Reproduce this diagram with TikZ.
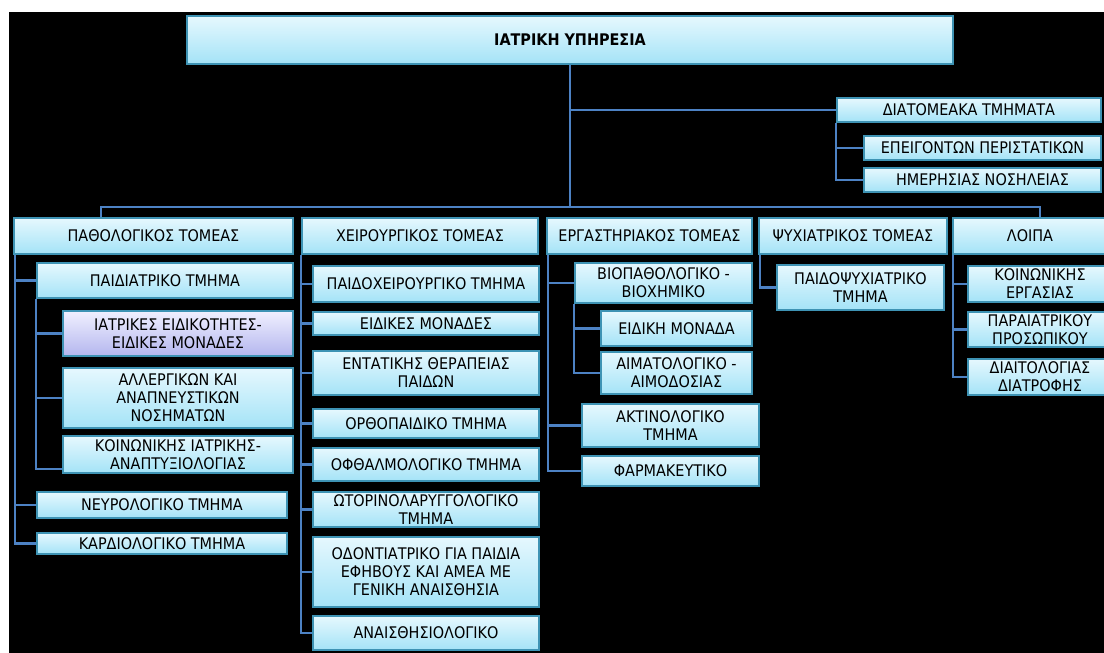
\documentclass[tikz,border=0pt]{standalone}
\usepackage{fontspec}
\setmainfont{DejaVu Sans Condensed}
\usepackage{tikz}
\usetikzlibrary{arrows.meta, positioning, calc}
\usepackage{xcolor}
\definecolor{boxtop}{HTML}{E6F8FE}
\definecolor{boxbot}{HTML}{A4E3F7}
\definecolor{boxline}{HTML}{3E93B4}
\definecolor{lavtop}{HTML}{F0F0FF}
\definecolor{lavbot}{HTML}{B4B6EE}
\definecolor{linkcol}{HTML}{4D82C4}

\begin{document}
\begin{tikzpicture}[
        x=1pt, y=-1pt,
        box/.style={rectangle, draw=boxline, line width=1.2pt, top color=boxtop, bottom color=boxbot,
            align=center, inner xsep=1pt, inner ysep=0pt, text=black, font=\fontsize{16}{18}\selectfont},
        lav/.style={box, top color=lavtop, bottom color=lavbot},
        sz/.style 2 args={minimum width=#1pt, minimum height=#2pt},
        link/.style={draw=linkcol, line width=2.1pt}
    ]
        \useasboundingbox (0,0) rectangle (1104,653);
        \fill[white] (0,0) rectangle (1104,653);
        \fill[black] (9,12) rectangle (1104,653);

        \node[box, sz={766}{48}, font=\fontsize{16}{18}\selectfont\bfseries] (top) at (570,40) {ΙΑΤΡΙΚΗ ΥΠΗΡΕΣΙΑ};

        \node[box, sz={264}{24}] (diat) at (969,110) {ΔΙΑΤΟΜΕΑΚΑ ΤΜΗΜΑΤΑ};
        \node[box, sz={237}{24}] (epeig) at (982.5,148) {ΕΠΕΙΓΟΝΤΩΝ ΠΕΡΙΣΤΑΤΙΚΩΝ};
        \node[box, sz={237}{24}] (imer) at (982.5,180) {ΗΜΕΡΗΣΙΑΣ ΝΟΣΗΛΕΙΑΣ};

        \node[box, sz={279}{36}] (path) at (153.5,236) {ΠΑΘΟΛΟΓΙΚΟΣ ΤΟΜΕΑΣ};
        \node[box, sz={236}{36}] (xeir) at (420,236) {ΧΕΙΡΟΥΡΓΙΚΟΣ ΤΟΜΕΑΣ};
        \node[box, sz={205}{36}] (erg) at (649.5,236) {ΕΡΓΑΣΤΗΡΙΑΚΟΣ ΤΟΜΕΑΣ};
        \node[box, sz={188}{36}] (psy) at (853,236) {ΨΥΧΙΑΤΡΙΚΟΣ ΤΟΜΕΑΣ};
        \node[box, sz={154}{36}] (loipa) at (1030,236) {ΛΟΙΠΑ};

        \node[box, sz={256}{35}] (paid) at (165,280.5) {ΠΑΙΔΙΑΤΡΙΚΟ ΤΜΗΜΑ};
        \node[lav, sz={230}{45}] (iatr) at (178,333.5) {ΙΑΤΡΙΚΕΣ ΕΙΔΙΚΟΤΗΤΕΣ-\\ΕΙΔΙΚΕΣ ΜΟΝΑΔΕΣ};
        \node[box, sz={230}{60}] (allerg) at (178,398) {ΑΛΛΕΡΓΙΚΩΝ ΚΑΙ\\ΑΝΑΠΝΕΥΣΤΙΚΩΝ\\ΝΟΣΗΜΑΤΩΝ};
        \node[box, sz={230}{37}] (koin) at (178,454.5) {ΚΟΙΝΩΝΙΚΗΣ ΙΑΤΡΙΚΗΣ-\\ΑΝΑΠΤΥΞΙΟΛΟΓΙΑΣ};
        \node[box, sz={250}{26}] (neur) at (162,505) {ΝΕΥΡΟΛΟΓΙΚΟ ΤΜΗΜΑ};
        \node[box, sz={250}{21}] (kard) at (162,543.5) {ΚΑΡΔΙΟΛΟΓΙΚΟ ΤΜΗΜΑ};

        \node[box, sz={226}{36}] (paidxeir) at (426,284) {ΠΑΙΔΟΧΕΙΡΟΥΡΓΙΚΟ ΤΜΗΜΑ};
        \node[box, sz={226}{23}] (eidmon) at (426,323.5) {ΕΙΔΙΚΕΣ ΜΟΝΑΔΕΣ};
        \node[box, sz={226}{44}] (entat) at (426,373) {ΕΝΤΑΤΙΚΗΣ ΘΕΡΑΠΕΙΑΣ\\ΠΑΙΔΩΝ};
        \node[box, sz={226}{29}] (orth) at (426,423.5) {ΟΡΘΟΠΑΙΔΙΚΟ ΤΜΗΜΑ};
        \node[box, sz={226}{33}] (ofth) at (426,464.5) {ΟΦΘΑΛΜΟΛΟΓΙΚΟ ΤΜΗΜΑ};
        \node[box, sz={226}{35}] (wtor) at (426,509.5) {ΩΤΟΡΙΝΟΛΑΡΥΓΓΟΛΟΓΙΚΟ\\ΤΜΗΜΑ};
        \node[box, sz={226}{70}] (odont) at (426,572) {ΟΔΟΝΤΙΑΤΡΙΚΟ ΓΙΑ ΠΑΙΔΙΑ\\ΕΦΗΒΟΥΣ ΚΑΙ ΑΜΕΑ ΜΕ\\ΓΕΝΙΚΗ ΑΝΑΙΣΘΗΣΙΑ};
        \node[box, sz={226}{34}] (anais) at (426,633) {ΑΝΑΙΣΘΗΣΙΟΛΟΓΙΚΟ};

        \node[box, sz={177}{40}] (biop) at (663.5,283) {ΒΙΟΠΑΘΟΛΟΓΙΚΟ -\\ΒΙΟΧΗΜΙΚΟ};
        \node[box, sz={151}{35}] (eidiki) at (676.5,328.5) {ΕΙΔΙΚΗ ΜΟΝΑΔΑ};
        \node[box, sz={151}{42}] (aimat) at (676.5,373) {ΑΙΜΑΤΟΛΟΓΙΚΟ -\\ΑΙΜΟΔΟΣΙΑΣ};
        \node[box, sz={177}{43}] (aktin) at (670.5,425.5) {ΑΚΤΙΝΟΛΟΓΙΚΟ\\ΤΜΗΜΑ};
        \node[box, sz={177}{30}] (farm) at (670.5,471) {ΦΑΡΜΑΚΕΥΤΙΚΟ};

        \node[box, sz={167}{45}] (paidpsy) at (860.5,287.5) {ΠΑΙΔΟΨΥΧΙΑΤΡΙΚΟ\\ΤΜΗΜΑ};

        \node[box, sz={144}{36}] (koinerg) at (1040,284) {ΚΟΙΝΩΝΙΚΗΣ\\ΕΡΓΑΣΙΑΣ};
        \node[box, sz={144}{35}] (parai) at (1040,329.5) {ΠΑΡΑΙΑΤΡΙΚΟΥ\\ΠΡΟΣΩΠΙΚΟΥ};
        \node[box, sz={144}{36}] (diait) at (1040,377) {ΔΙΑΙΤΟΛΟΓΙΑΣ\\ΔΙΑΤΡΟΦΗΣ};

        \coordinate (bus) at (570,207);
        \draw[link] (top.south) -- (bus);
        \draw[link] ([xshift=-52.5pt]path.north) |- (bus) -| ([xshift=10pt]loipa.north);
        \draw[link] (top.south |- diat.west) -- (diat.west);
        \draw[link] (diat.south west) |- (imer.west);
        \draw[link] (diat.south west |- epeig.west) -- (epeig.west);

        \draw[link] ([xshift=2pt]path.south west) |- (kard.west);
        \draw[link] ([xshift=2pt]path.south west |- paid.west) -- (paid.west);
        \draw[link] ([xshift=2pt]path.south west |- neur.west) -- (neur.west);
        \draw[link] (paid.south west) |- ([yshift=5pt]koin.south west);
        \draw[link] (paid.south west |- iatr.west) -- (iatr.west);
        \draw[link] (paid.south west |- allerg.west) -- (allerg.west);

        \draw[link] (xeir.south west) |- (anais.west);
        \foreach \n in {paidxeir, eidmon, entat, orth, ofth, wtor, odont}
            \draw[link] (xeir.south west |- \n.west) -- (\n.west);

        \draw[link] ([xshift=2pt]erg.south west) |- (farm.west);
        \draw[link] ([xshift=2pt]erg.south west |- biop.west) -- (biop.west);
        \draw[link] ([xshift=2pt]erg.south west |- aktin.west) -- (aktin.west);
        \draw[link] (biop.south west) |- (aimat.west);
        \draw[link] (biop.south west |- eidiki.west) -- (eidiki.west);

        \draw[link] ([xshift=2pt]psy.south west) |- (paidpsy.west);

        \draw[link] ([xshift=1pt]loipa.south west) |- (diait.west);
        \draw[link] ([xshift=1pt]loipa.south west |- koinerg.west) -- (koinerg.west);
        \draw[link] ([xshift=1pt]loipa.south west |- parai.west) -- (parai.west);
    \end{tikzpicture}
\end{document}
